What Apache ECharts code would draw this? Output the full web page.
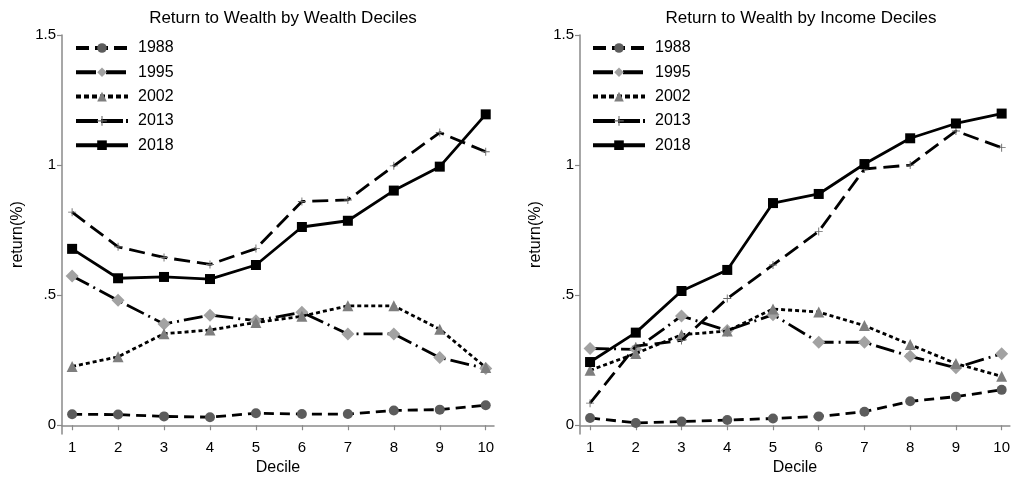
<!DOCTYPE html>
<html>
<head>
<meta charset="utf-8">
<script src="https://cdn.jsdelivr.net/npm/echarts@6/dist/echarts.min.js"></script>
<style>
  html, body { margin: 0; padding: 0; background: #fff; }
  #chart { width: 1013px; height: 481px; }
</style>
</head>
<body>
<div id="chart"></div>
<script>
// Deciles on the horizontal axis
const deciles = [1, 2, 3, 4, 5, 6, 7, 8, 9, 10];
const years = ['1988', '1995', '2002', '2013', '2018'];
const yTicks = [0, 0.5, 1, 1.5];

// Return to wealth (%) by wealth decile
const wealth1988 = [0.042, 0.041, 0.034, 0.031, 0.046, 0.043, 0.043, 0.057, 0.060, 0.077];
const wealth1995 = [0.574, 0.480, 0.389, 0.423, 0.402, 0.434, 0.351, 0.351, 0.260, 0.218];
const wealth2002 = [0.226, 0.263, 0.352, 0.366, 0.395, 0.419, 0.459, 0.459, 0.369, 0.222];
const wealth2013 = [0.819, 0.686, 0.645, 0.618, 0.679, 0.860, 0.866, 0.997, 1.125, 1.051];
const wealth2018 = [0.678, 0.565, 0.570, 0.562, 0.616, 0.762, 0.786, 0.902, 0.994, 1.195];

// Return to wealth (%) by income decile
const income1988 = [0.028, 0.009, 0.014, 0.020, 0.026, 0.034, 0.052, 0.092, 0.110, 0.136];
const income1995 = [0.295, 0.292, 0.420, 0.364, 0.425, 0.319, 0.319, 0.265, 0.221, 0.275];
const income2002 = [0.211, 0.276, 0.348, 0.362, 0.447, 0.435, 0.383, 0.310, 0.237, 0.188];
const income2013 = [0.085, 0.304, 0.326, 0.487, 0.616, 0.745, 0.985, 1.000, 1.131, 1.067];
const income2018 = [0.243, 0.356, 0.516, 0.597, 0.854, 0.889, 1.004, 1.103, 1.160, 1.198];

const wealthSeries = [wealth1988, wealth1995, wealth2002, wealth2013, wealth2018];
const incomeSeries = [income1988, income1995, income2002, income2013, income2018];

const FONT = 'Liberation Sans, Arial, Helvetica, sans-serif';
const plusPath = 'path://M4,0L5,0L5,4L9,4L9,5L5,5L5,9L4,9L4,5L0,5L0,4L4,4Z';

// Line and marker look for each survey year
const styles = [
  { dash: [10, 6],       legendDash: [13, 6],       symbol: 'circle',   size: 10, color: '#5c5c5c' },
  { dash: [19, 5, 2, 5], legendDash: [20, 4, 2, 4], symbol: 'diamond',  size: 13, color: '#a2a2a2' },
  { dash: [4, 3],        legendDash: [5, 3],        symbol: 'triangle', size: 11, color: '#7e7e7e' },
  { dash: [16, 7],       legendDash: [22, 3],       symbol: plusPath,   size: 8,  color: '#666666' },
  { dash: 'solid',       legendDash: 'solid',       symbol: 'rect',     size: 10, color: '#000000' }
];

function buildSeries(values, gridIndex) {
  return values.map((vals, i) => ({
    name: years[i],
    type: 'line',
    xAxisIndex: gridIndex,
    yAxisIndex: gridIndex,
    data: deciles.map((d, k) => [d, vals[k]]),
    symbol: styles[i].symbol,
    symbolSize: styles[i].size,
    showAllSymbol: true,
    itemStyle: { color: styles[i].color, borderWidth: 0 },
    lineStyle: { color: '#000', width: 2.8, type: styles[i].dash },
    emphasis: { disabled: true },
    animation: false,
    z: 2 + i
  }));
}

const axisGray = '#8a8a8a';

function xAxisFor(gridIndex) {
  return {
    type: 'value', gridIndex,
    min: 0.78, max: 10.18,
    name: 'Decile', nameLocation: 'middle', nameGap: 25,
    nameTextStyle: { fontFamily: FONT, fontSize: 16, color: '#000' },
    axisLine: { lineStyle: { color: axisGray, width: 1.5 } },
    axisTick: { customValues: deciles, length: 5, lineStyle: { color: axisGray, width: 1.2 } },
    axisLabel: { customValues: deciles, fontFamily: FONT, fontSize: 15, color: '#000', margin: 6 },
    splitLine: { show: false }
  };
}

function yFmt(v) {
  if (v === 0) return '0';
  return String(v).replace(/^0\./, '.');
}

function yAxisFor(gridIndex) {
  return {
    type: 'value', gridIndex,
    min: -0.034, max: 1.5,
    name: 'return(%)', nameLocation: 'middle', nameGap: 36, nameRotate: 90,
    nameTextStyle: { fontFamily: FONT, fontSize: 16, color: '#000' },
    axisLine: { show: true, lineStyle: { color: axisGray, width: 1.5 } },
    axisTick: { show: true, customValues: yTicks, length: 5, lineStyle: { color: axisGray, width: 1.2 } },
    axisLabel: { customValues: yTicks, formatter: yFmt, fontFamily: FONT, fontSize: 15, color: '#000', margin: 6 },
    splitLine: { show: false }
  };
}

function legendAt(left) {
  return {
    left, top: 35, orient: 'vertical',
    itemWidth: 52, itemHeight: 12, itemGap: 8.3,
    data: years.map((y, i) => ({
      name: y,
      lineStyle: { width: 4, type: styles[i].legendDash, color: '#000' }
    })),
    textStyle: { fontFamily: FONT, fontSize: 16, color: '#000', padding: [0, 0, 0, 5] },
    selectedMode: false
  };
}

const chart = echarts.init(document.getElementById('chart'), null, { renderer: 'canvas' });
chart.setOption({
  backgroundColor: '#fff',
  animation: false,
  title: [
    { text: 'Return to Wealth by Wealth Deciles', left: 278, top: 5, textAlign: 'center',
      textStyle: { fontFamily: FONT, fontSize: 17, fontWeight: 'normal', color: '#000' } },
    { text: 'Return to Wealth by Income Deciles', left: 796, top: 5, textAlign: 'center',
      textStyle: { fontFamily: FONT, fontSize: 17, fontWeight: 'normal', color: '#000' } }
  ],
  legend: [legendAt(69), legendAt(586)],
  grid: [
    { left: 62, right: 519, top: 35, bottom: 44 },
    { left: 580, right: 1, top: 35, bottom: 44 }
  ],
  xAxis: [xAxisFor(0), xAxisFor(1)],
  yAxis: [yAxisFor(0), yAxisFor(1)],
  series: [...buildSeries(wealthSeries, 0), ...buildSeries(incomeSeries, 1)]
});
</script>
</body>
</html>
